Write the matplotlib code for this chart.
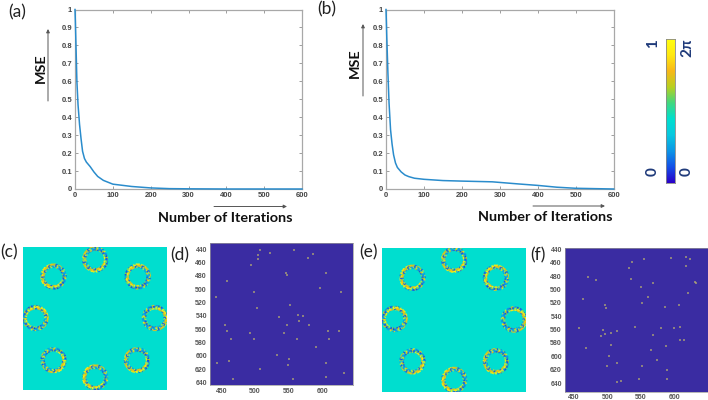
import numpy as np
import matplotlib
matplotlib.use('Agg')
import matplotlib.pyplot as plt
from matplotlib.colors import LinearSegmentedColormap

# 곡선 데이터 (a), (b)
iter_a = [0, 1, 2, 5, 8, 12, 16, 20, 25, 30, 40, 50, 60, 75, 100, 150, 200, 250, 300, 400, 600]
mse_a = [1, 0.93, 0.85, 0.6, 0.47, 0.36, 0.28, 0.21, 0.17, 0.15, 0.125, 0.095, 0.07, 0.048, 0.027, 0.014, 0.006, 0.002, 0.001, 0, 0]
iter_b = [0, 1, 2, 5, 8, 12, 16, 20, 25, 30, 40, 50, 60, 75, 100, 150, 200, 280, 350, 400, 450, 500, 550, 600]
mse_b = [1, 0.93, 0.85, 0.65, 0.48, 0.33, 0.25, 0.19, 0.145, 0.12, 0.095, 0.078, 0.069, 0.06, 0.054, 0.047, 0.044, 0.04, 0.028, 0.02, 0.01, 0.004, 0.002, 0]

# 링 중심 (위에서 아래로, 이미지 비율 좌표)
rings_c = [(0.50, 0.085), (0.21, 0.205), (0.795, 0.205), (0.085, 0.495), (0.915, 0.495), (0.21, 0.79), (0.79, 0.79), (0.50, 0.91)]
rings_e = [(0.50, 0.08), (0.21, 0.205), (0.79, 0.205), (0.085, 0.49), (0.915, 0.495), (0.21, 0.785), (0.79, 0.785), (0.50, 0.915)]
speckle = [0.85, 0.15, 0.7, 0.3, 0.9, 0.1, 0.6, 0.8, 0.2, 0.95, 0.4, 0.12, 0.75, 0.18, 0.7, 0.88, 0.25, 0.55, 0.08, 0.82, 0.35, 0.92, 0.14, 0.65, 0.72, 0.22, 0.45, 0.86, 0.1, 0.68, 0.28, 0.96, 0.5, 0.16, 0.78, 0.38, 0.9, 0.2, 0.58, 0.12, 0.7, 0.94, 0.32, 0.62, 0.18, 0.8, 0.42]

# 점 데이터 (d)
spots_d_x = [507, 523, 558, 586, 579, 505, 504, 494, 546, 548, 606, 459, 498, 596, 628, 442, 552, 503, 564, 572, 566, 536, 456, 547, 580, 458, 543, 608, 625, 492, 464, 498, 563, 610, 591, 532, 551, 461, 444, 606, 549, 507, 632, 467, 556, 605]
spots_d_y = [441, 446, 442, 448, 454, 449, 455, 464, 476, 479, 476, 488, 504, 498, 504, 512, 524, 529, 538, 540, 547, 541, 554, 554, 553, 563, 565, 563, 562, 566, 574, 575, 574, 574, 587, 599, 604, 608, 610, 610, 614, 619, 625, 635, 635, 631]
# 점 데이터 (f)
spots_f_x = [617, 624, 595, 555, 537, 617, 532, 472, 535, 484, 568, 631, 633, 551, 620, 561, 464, 552, 497, 498, 587, 607, 458, 541, 581, 608, 600, 494, 514, 505, 497, 491, 569, 608, 615, 505, 588, 468, 566, 502, 574, 514, 500, 552, 589, 547, 589, 521, 515]
spots_f_y = [452, 455, 453, 454, 459, 465, 468, 481, 484, 486, 490, 489, 490, 496, 506, 512, 514, 520, 524, 528, 526, 524, 558, 556, 558, 556, 558, 561, 562, 565, 566, 570, 568, 576, 575, 583, 584, 587, 591, 600, 605, 610, 615, 615, 620, 634, 634, 637, 639]

plt.rcParams['font.family'] = ['Liberation Sans', 'DejaVu Sans']
W, H = 708, 400
fig = plt.figure(figsize=(W / 100, H / 100), dpi=100)

parula = LinearSegmentedColormap.from_list('parula_like', ['#2A00C8', '#1450E8', '#0C96E6', '#08C8E0', '#00DFCF', '#40D880', '#B8D020', '#F8B818', '#FFE810', '#FFFF10'])
BG_LEVEL = 4 / 9


def px_axes(x0, y0, x1, y1):
    return fig.add_axes([x0 / W, 1 - y1 / H, (x1 - x0) / W, (y1 - y0) / H])


def fig_text(x, y, s, **kw):
    kw.setdefault('ha', 'center')
    kw.setdefault('va', 'center')
    fig.text(x / W, 1 - y / H, s, **kw)


def fig_arrow(x0, y0, x1, y1):
    fig.add_artist(matplotlib.patches.FancyArrowPatch(
        (x0 / W, 1 - y0 / H), (x1 / W, 1 - y1 / H), transform=fig.transFigure,
        arrowstyle='-|>', mutation_scale=5, lw=0.7, color='#555555', shrinkA=0, shrinkB=0))


def curve_panel(box, xs, ys):
    ax = px_axes(*box)
    ax.plot(xs, ys, color='#2a8ccc', lw=1.1, zorder=3, clip_on=False)
    ax.set_xlim(0, 600)
    ax.set_ylim(0, 1)
    ax.set_xticks(range(0, 601, 100))
    ax.set_yticks(np.arange(0, 1.01, 0.1))
    ax.set_yticklabels(['0', '0.1', '0.2', '0.3', '0.4', '0.5', '0.6', '0.7', '0.8', '0.9', '1'])
    ax.tick_params(direction='in', length=2, width=0.5, color='#777777', labelsize=5.5, labelcolor='#444444', pad=2, top=True, right=True)
    for lab in ax.get_xticklabels() + ax.get_yticklabels():
        lab.set_fontweight('bold')
    for s in ax.spines.values():
        s.set_color('#a8a8a8')
        s.set_linewidth(0.9)


def ring_panel(box, centers):
    n = 143 * 2
    img = np.full((n, n), BG_LEVEL)
    yy, xx = np.mgrid[0:n, 0:n]
    levels = np.array(speckle)
    for k, (cx, cy) in enumerate(centers):
        dx, dy = xx - cx * n, yy - cy * n
        r = np.hypot(dx, dy) / 2
        mask = (r > 8.6) & (r < 13)
        seg = ((np.arctan2(dy, dx) + np.pi) / (2 * np.pi) * 58).astype(int)
        band = (r / 1.1).astype(int)
        cells = (seg * 5 + band * 17 + k * 7) % len(levels)
        img[mask] = levels[cells[mask]]
    ax = px_axes(*box)
    ax.imshow(img, cmap=parula, vmin=0, vmax=1, interpolation='antialiased', aspect='auto')
    ax.axis('off')


def spot_panel(box, xs, ys, xlim, ylim):
    ax = px_axes(*box)
    ax.set_facecolor('#3a2ca2')
    ax.scatter(xs, ys, s=1.2, marker='s', color='#b8b070', alpha=0.65, linewidths=0)
    ax.set_xlim(*xlim)
    ax.set_ylim(*ylim)
    ax.set_xticks([450, 500, 550, 600])
    ax.set_yticks(range(440, 641, 20))
    ax.tick_params(length=0, labelsize=5, labelcolor='#555555', pad=2)
    for lab in ax.get_xticklabels() + ax.get_yticklabels():
        lab.set_fontweight('bold')
    for s in ax.spines.values():
        s.set_color('#999999')
        s.set_linewidth(0.5)


curve_panel((75, 9.5, 302, 189), iter_a, mse_a)
curve_panel((386, 9.5, 613.7, 189), iter_b, mse_b)
ring_panel((23.3, 247.3, 166.7, 390.3), rings_c)
spot_panel((209.7, 242.7, 353.3, 385.3), spots_d_x, spots_d_y, (432.7, 646), (644, 430.5))
ring_panel((381.7, 248.3, 524.7, 391.7), rings_e)
spot_panel((564.7, 248.3, 707.7, 391.7), spots_f_x, spots_f_y, (436.6, 650), (653, 438.5))

# 컬러바
cax = px_axes(665.7, 39, 674.7, 183)
cax.imshow(np.linspace(1, 0, 256).reshape(-1, 1), cmap=parula, aspect='auto')
cax.set_xticks([])
cax.set_yticks([])
for s in cax.spines.values():
    s.set_color('#888888')
    s.set_linewidth(0.6)

label_font = ['Lato', 'DejaVu Sans']
for x, y, s in [(225, 218, 'Number of Iterations'), (545, 217, 'Number of Iterations')]:
    fig_text(x, y, s, family=label_font, fontsize=10.4, fontweight='bold', color='#111111')
for x, y in [(41, 68), (355, 63)]:
    fig_text(x, y, 'MSE', family=label_font, fontsize=10.4, fontweight='bold', rotation=90, color='#111111')

fig_arrow(48, 101, 48, 29)
fig_arrow(363, 96, 363, 24)
fig_arrow(214, 206.5, 287, 206.5)
fig_arrow(533, 206, 605, 206)

for x, y, s in [(653, 44, '1'), (653, 172, '0'), (687, 48, '2π'), (687, 172, '0')]:
    fig_text(x, y, s, family=label_font, fontsize=11, fontweight='bold', rotation=90, color='#1f3a7a')

for x, y, s in [(17, 12, '(a)'), (327, 9, '(b)'), (9, 252, '(c)'), (180, 255, '(d)'), (368, 252, '(e)'), (538, 255, '(f)')]:
    fig_text(x, y, s, family=label_font, fontsize=12.5, color='#222222')

fig.savefig('out.png', dpi=100)
